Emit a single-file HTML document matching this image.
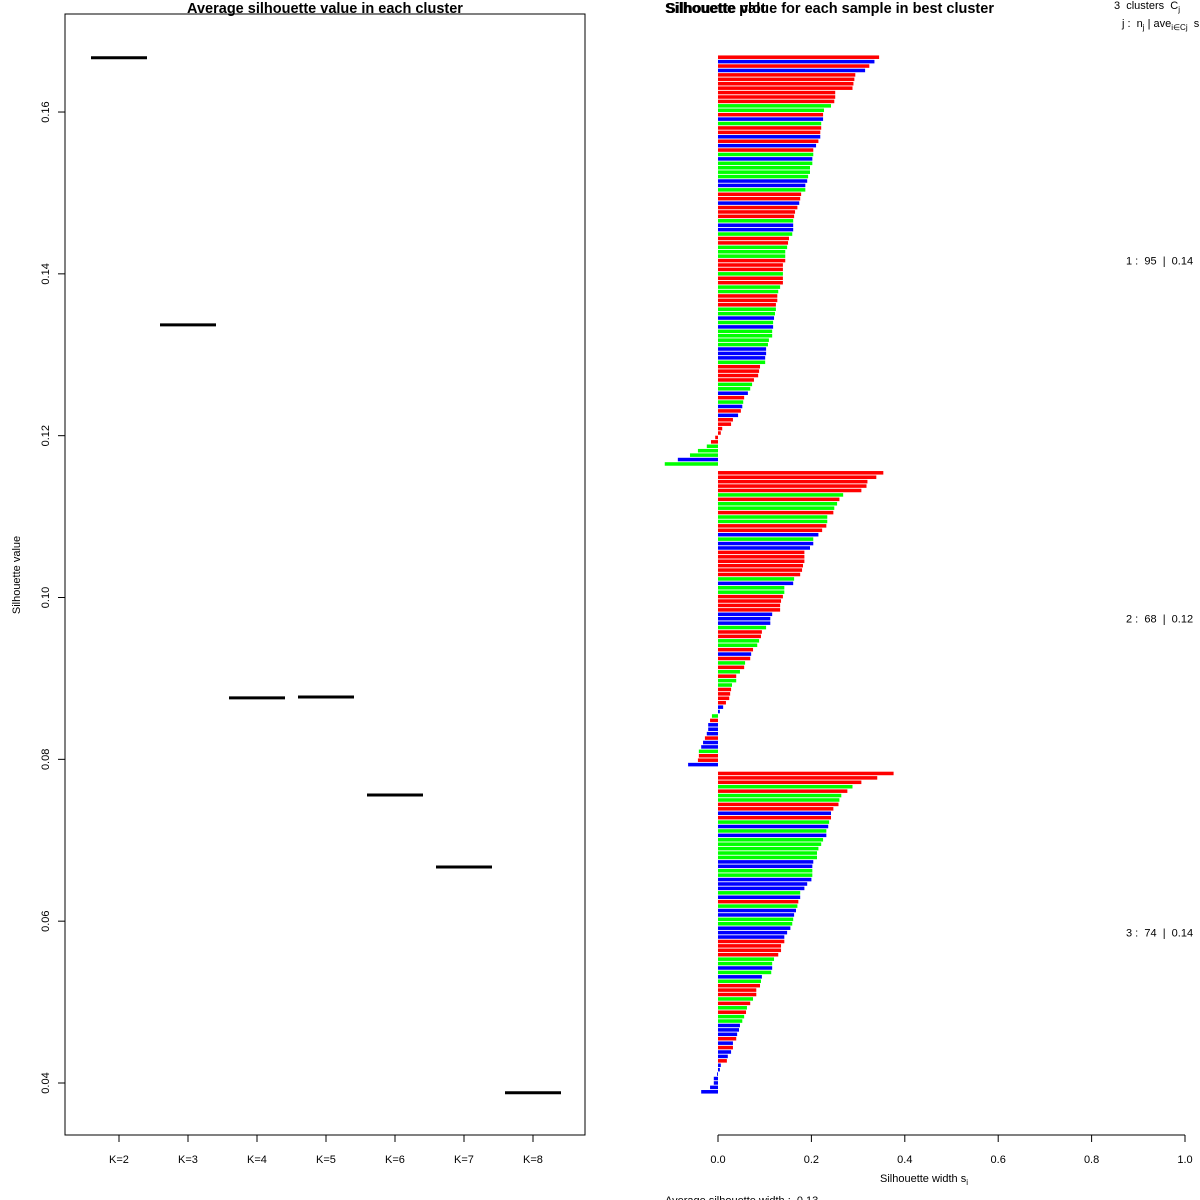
<!DOCTYPE html>
<html><head><meta charset="utf-8"><style>
body{margin:0;background:#fff}
svg{display:block;font-family:"Liberation Sans",Arial,sans-serif}
</style></head><body>
<svg id="chart" width="1200" height="1200" viewBox="0 0 1200 1200" xmlns="http://www.w3.org/2000/svg">
<rect width="1200" height="1200" fill="#fff"/>
<g id="left"></g>
<g id="right"></g>
</svg>
<script>
const kLabels=["K=2","K=3","K=4","K=5","K=6","K=7","K=8"];
const kValues=[0.1667,0.1337,0.0876,0.0877,0.0756,0.0667,0.0388];
const yTicks=[0.04,0.06,0.08,0.10,0.12,0.14,0.16];
const yTickLabels=["0.04","0.06","0.08","0.10","0.12","0.14","0.16"];
const xTicks=[0,0.2,0.4,0.6,0.8,1.0];
const xTickLabels=["0.0","0.2","0.4","0.6","0.8","1.0"];
const cluster1Values=[0.345,0.335,0.324,0.315,0.294,0.292,0.290,0.288,0.251,0.251,0.249,0.242,0.227,0.225,0.225,0.221,0.221,0.219,0.219,0.215,0.210,0.204,0.204,0.202,0.202,0.197,0.197,0.193,0.191,0.187,0.187,0.178,0.176,0.174,0.170,0.165,0.163,0.161,0.161,0.161,0.159,0.152,0.150,0.148,0.144,0.144,0.144,0.139,
0.139,0.139,0.139,0.139,0.133,0.129,0.127,0.127,0.124,0.124,0.122,0.120,0.118,0.118,0.116,0.116,0.109,0.107,0.103,0.103,0.101,0.101,0.090,0.088,0.086,0.077,0.073,0.069,0.064,0.056,0.054,0.052,0.049,0.043,0.032,0.028,0.009,0.006,
-0.006,-0.015,-0.024,-0.043,-0.060,-0.086,-0.114];
const cluster1Colors="RBRBRRRRRRRGGRBGRRBRBRGBGGGGBBGRRBRRRGBBGRRGGGRR"+"RGRRGGRRRGGBGBGGGGBBBGRRRRGGBRGBRBRRRR"+"RRGGGBG";
const cluster2Values=[0.354,0.339,0.320,0.318,0.307,0.268,0.260,0.255,0.249,0.247,0.234,0.234,0.232,0.223,0.215,0.204,0.204,0.197,0.185,0.185,0.185,0.182,0.180,0.176,0.163,0.161,0.142,0.142,0.139,0.135,0.133,0.133,0.116,0.112,0.112,0.103,0.094,0.092,0.088,0.084,0.075,0.071,0.069,0.058,0.056,0.047,0.039,0.039,0.030,0.028,0.026,0.024,0.017,0.011,0.004,-0.013,-0.017,-0.021,-0.021,-0.024,-0.028,-0.032,-0.036,-0.041,-0.041,-0.043,-0.064];
const cluster2Colors="RRRRRGRGGRGGRRBGBBRRRRRRGBGGRRRRBBB"+"GRRGGRBRGRGRGGRRRRBB"+"GRBBBRBBGRRB";
const cluster3Values=[0.376,0.341,0.307,0.288,0.277,0.264,0.260,0.258,0.247,0.242,0.242,0.238,0.236,0.232,0.232,0.225,0.221,0.215,0.212,0.212,0.204,0.202,0.202,0.202,0.200,0.191,0.185,0.176,0.176,0.172,0.170,0.167,0.163,0.161,0.159,0.155,0.148,0.142,0.142,0.135,0.135,0.129,0.120,0.116,0.116,0.114,0.094,0.092,0.090,0.082,0.082,0.075,0.069,0.062,0.060,0.056,0.052,0.047,0.045,0.041,0.039,0.032,0.032,0.028,0.021,0.019,0.006,0.004,-0.002,-0.009,-0.009,-0.017,-0.036];
const cluster3Colors="RRRGRGGRRBRGBGBGGGGGBBGGBBBGBRGBBGGBB"+"BRRRRGGBGBGRRRGRGRGGBBBRBRBBRBB"+"BBBBB";
const clusterLabels=["1 :  95  |  0.14","2 :  68  |  0.12","3 :  74  |  0.14"];

const NS="http://www.w3.org/2000/svg";
function mk(parent,tag,attrs,text){const e=document.createElementNS(NS,tag);for(const k in attrs)e.setAttribute(k,attrs[k]);if(text!==undefined)e.textContent=text;parent.appendChild(e);return e;}

const L=document.getElementById('left');
const lx0=65,lx1=585,ly0=14,ly1=1135;
const yScale=v=>1083-(v-0.04)/0.02*161.83;
const kx=i=>119+i*69;
let e;
e=mk(L,'rect',{x:lx0,y:ly0,width:lx1-lx0,height:ly1-ly0,fill:'none',stroke:'#000','stroke-width':1});


e=mk(L,'text',{x:325,y:13,'text-anchor':'middle','font-size':14.5,'font-weight':'bold'},'Average silhouette value in each cluster');


e=mk(L,'text',{x:20,y:575,'text-anchor':'middle','font-size':11,transform:'rotate(-90 20 575)'},'Silhouette value');


yTicks.forEach((t,i)=>{const y=yScale(t);
 let a=mk(L,'line',{x1:lx0,x2:lx0-7,y1:y,y2:y,stroke:'#000'});
 
 
 a=mk(L,'text',{x:49,y:y,'text-anchor':'middle','font-size':11,transform:'rotate(-90 49 '+y+')'},yTickLabels[i]);
 
 
});
kLabels.forEach((k,i)=>{const x=kx(i);
 let a=mk(L,'line',{x1:x,x2:x,y1:ly1,y2:ly1+7,stroke:'#000'});
 
 
 a=mk(L,'text',{x:x,y:1163,'text-anchor':'middle','font-size':11},k);
 
 
 const y=yScale(kValues[i]);
 a=mk(L,'line',{x1:x-28,x2:x+28,y1:y,y2:y,stroke:'#000','stroke-width':3});
 
 
});

const R=document.getElementById('right');
const sx=v=>718+v*467;
const clusters=[[cluster1Values,cluster1Colors],[cluster2Values,cluster2Colors],[cluster3Values,cluster3Colors]];
const totalRows=cluster1Values.length+cluster2Values.length+cluster3Values.length+2;
const rowTop=55,rowBottom=1094,rowH=(rowBottom-rowTop)/totalRows;
const colMap={R:'#ff0000',G:'#00ff00',B:'#0000ff'};
let row=0;
clusters.forEach((c,ci)=>{
 const vals=c[0],cols=c[1];
 const start=row;
 vals.forEach((v,j)=>{const y=rowTop+row*rowH;
  const x=Math.min(sx(0),sx(v)),w=Math.abs(sx(v)-sx(0));
  const b=mk(R,'rect',{x:x,y:y+rowH*0.1,width:w,height:rowH*0.8,fill:colMap[cols[j]||'R']});
  
  
  row++;});
 const cy=rowTop+(start+row)/2*rowH;
 const t=mk(R,'text',{x:1126,y:cy+4,'font-size':11,style:'white-space:pre'},clusterLabels[ci]);
 
 
 row++;
});
e=mk(R,'line',{x1:sx(0),x2:sx(1),y1:1135,y2:1135,stroke:'#000'});


xTicks.forEach((t,i)=>{const x=sx(t);
 let a=mk(R,'line',{x1:x,x2:x,y1:1135,y2:1142,stroke:'#000'});
 
 
 a=mk(R,'text',{x:x,y:1163,'text-anchor':'middle','font-size':11},xTickLabels[i]);
 
 
});
e=mk(R,'text',{x:924,y:1182,'text-anchor':'middle','font-size':11},'Silhouette width s');


mk(e,'tspan',{'font-size':8,dy:3},'i');
e=mk(R,'text',{x:665,y:1204,'font-size':11,style:'white-space:pre'},'Average silhouette width :  0.13');


e=mk(R,'text',{x:665,y:13,'font-size':14.5,'font-weight':'bold'},'Silhouette plot');


e=mk(R,'text',{x:666,y:13,'font-size':14.5,'font-weight':'bold'},'Silhouette value for each sample in best cluster');


e=mk(R,'text',{x:1114,y:9,'font-size':11,style:'white-space:pre'},'3  clusters  C');


mk(e,'tspan',{'font-size':8,dy:3},'j');
e=mk(R,'text',{x:1122,y:27,'font-size':11,style:'white-space:pre'},'j :  n');


mk(e,'tspan',{'font-size':8,dy:3},'j');
mk(e,'tspan',{dy:-3},' | ave');
mk(e,'tspan',{'font-size':8,dy:3},'i∈Cj');
mk(e,'tspan',{dy:-3},'  s');
</script>
</body></html>
